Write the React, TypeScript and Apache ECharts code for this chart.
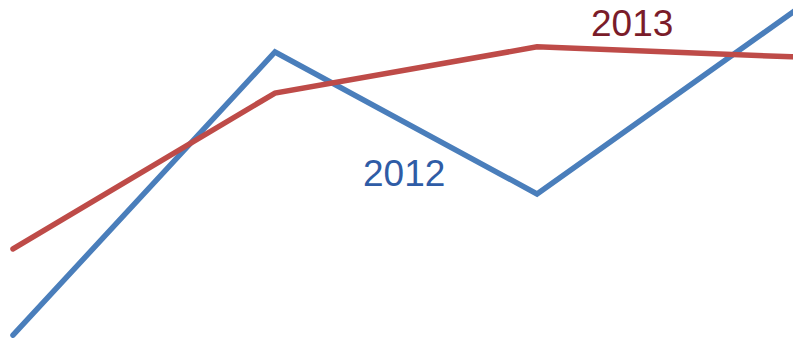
import React, { useEffect, useRef } from "react";
import * as echarts from "echarts";

const categories = ["Q1", "Q2", "Q3", "Q4"];
const series2012 = [2.0, 84.8, 43.3, 97.7];
const series2013 = [27.2, 72.8, 86.3, 83.3];
const seriesNames = ["2012", "2013"];

export default function App() {
  const ref = useRef<HTMLDivElement>(null);
  useEffect(() => {
    if (!ref.current) return;
    const chart = echarts.init(ref.current, null, { renderer: "svg" });
    chart.setOption({
      animation: false,
      grid: { left: 13, right: 1, top: 0, bottom: 0 },
      xAxis: {
        type: "category",
        data: categories,
        boundaryGap: false,
        show: false,
      },
      yAxis: { type: "value", min: 0, max: 100, show: false },
      series: [
        {
          name: seriesNames[0],
          type: "line",
          data: series2012,
          symbol: "none",
          clip: false,
          lineStyle: { color: "#4a7ebb", width: 5.5, cap: "round", join: "miter" },
        },
        {
          name: seriesNames[1],
          type: "line",
          data: series2013,
          symbol: "none",
          clip: false,
          lineStyle: { color: "#be4b48", width: 5.5, cap: "round", join: "miter" },
        },
      ],
      graphic: [
        {
          type: "text",
          left: 363,
          top: 155,
          style: {
            text: seriesNames[0],
            fill: "#2f5ca6",
            font: "37px 'Liberation Sans', Arial, sans-serif",
          },
        },
        {
          type: "text",
          left: 591,
          top: 5,
          style: {
            text: seriesNames[1],
            fill: "#7a1c2a",
            font: "37px 'Liberation Sans', Arial, sans-serif",
          },
        },
      ],
    });
    return () => chart.dispose();
  }, []);
  return (
    <div
      ref={ref}
      style={{ position: "absolute", left: 0, top: 0, width: 800, height: 342, background: "#fff" }}
    />
  );
}
